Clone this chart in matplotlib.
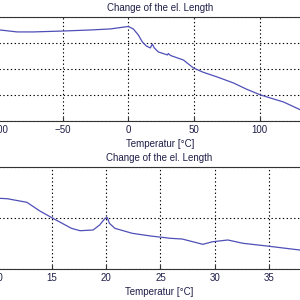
import matplotlib
matplotlib.use("Agg")
import matplotlib.pyplot as plt

# upper panel: full temperature sweep
temp_a = [-97.7, -84.7, -72.5, -49.6, -29.0, -13.7, 0.0, 3.8, 7.6, 10.7, 13.7, 16.8,
          18.3, 19.8, 22.9, 29.8, 30.5, 32.1, 42.0, 49.6, 57.0, 67.9, 80.2, 90.0,
          100.8, 118.3, 131.3]
len_a = [0.100, 0.085, 0.085, 0.092, 0.100, 0.108, 0.127, 0.108, 0.062, 0.008, -0.023,
         -0.038, -0.008, -0.038, -0.069, -0.092, -0.081, -0.096, -0.131, -0.192, -0.225,
         -0.262, -0.308, -0.355, -0.400, -0.454, -0.515]

# lower panel: zoom on 10..38 degC
temp_b = [10.2, 10.9, 12.7, 13.9, 15.1, 16.8, 17.6, 18.8, 19.4, 19.9, 20.1, 20.3,
          20.8, 22.4, 24.0, 25.9, 27.0, 28.9, 29.8, 31.2, 32.6, 34.8, 37.8]
len_b = [0.0386, 0.0378, 0.0308, 0.0137, -0.0006, -0.0202, -0.0249, -0.0235, -0.0137,
         -0.0006, 0.001, -0.0104, -0.0202, -0.0300, -0.035, -0.0398, -0.0412, -0.0516,
         -0.0465, -0.0431, -0.0496, -0.0549, -0.0627]

line_col = '#4f4fb8'
txt_col = '#1e1e48'
plt.rcParams['font.family'] = ['Liberation Sans', 'DejaVu Sans']
plt.rcParams['font.size'] = 7

fig = plt.figure(figsize=(3, 3), dpi=100)

def panel(pos, x, y, xlim, ylim, xticks, yticks):
    ax = fig.add_axes(pos)
    ax.plot(x, y, color=line_col, linewidth=0.9)
    ax.set_xlim(xlim)
    ax.set_ylim(ylim)
    ax.set_xticks(xticks)
    ax.set_yticks(yticks)
    ax.set_yticklabels([])
    ax.grid(True, color='black', linestyle=(0, (1.2, 2.2)), linewidth=0.8)
    ax.tick_params(direction='in', length=3, colors='#333333', labelcolor=txt_col,
                   labelsize=7, pad=3)
    for s in ax.spines.values():
        s.set_color('#333333')
        s.set_linewidth(0.8)
    ax.set_title('Change of the el. Length', color=txt_col, fontsize=7, pad=4)
    ax.set_xlabel('Temperatur [°C]', color=txt_col, fontsize=7, labelpad=2.5)
    return ax

panel([-0.0973, 0.5967, 1.26, 0.3467], temp_a, len_a, (-120, 168), (-0.6, 0.2),
      [-100, -50, 0, 50, 100], [-0.6, -0.4, -0.2, 0, 0.2])
panel([-0.0807, 0.1033, 1.224, 0.34], temp_b, len_b, (8, 41.8), (-0.1, 0.1),
      [10, 15, 20, 25, 30, 35], [-0.1, 0, 0.1])

fig.savefig('out.png', dpi=100)
